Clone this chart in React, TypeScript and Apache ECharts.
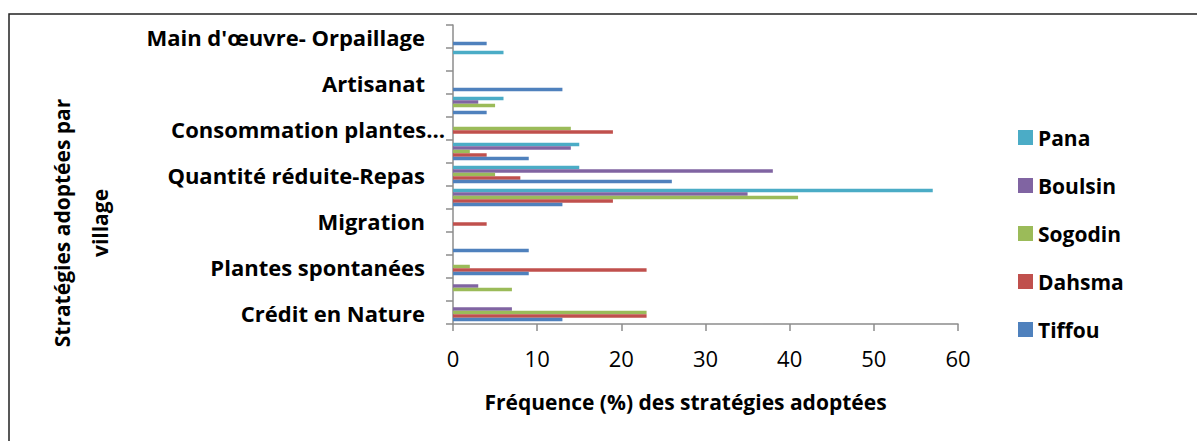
import React, { useEffect, useRef } from "react";
import * as echarts from "echarts";

const categories = [
  "Crédit en Nature",
  "Crédit en espèces",
  "Plantes spontanées",
  "Vente de bétail",
  "Migration",
  "Nombre réduit-Repas",
  "Quantité réduite-Repas",
  "Emprunt",
  "Consommation plantes…",
  "Petit commerce",
  "Artisanat",
  "Aide alimentaire",
  "Main d'œuvre- Orpaillage",
];

const tiffou = [13, 0, 9, 9, 0, 13, 26, 9, 0, 4, 13, 0, 4];
const dahsma = [23, 0, 23, 0, 4, 19, 8, 4, 19, 0, 0, 0, 0];
const sogodin = [23, 7, 2, 0, 0, 41, 5, 2, 14, 5, 0, 0, 0];
const boulsin = [7, 3, 0, 0, 0, 35, 38, 14, 0, 3, 0, 0, 0];
const pana = [0, 0, 0, 0, 0, 57, 15, 15, 0, 6, 0, 6, 0];

// drawn top-to-bottom inside each band
const seriesNames = ["Pana", "Boulsin", "Sogodin", "Dahsma", "Tiffou"];
const seriesValues = [pana, boulsin, sogodin, dahsma, tiffou];
const seriesColors = ["#4BACC6", "#8064A2", "#9BBB59", "#C0504D", "#4F81BD"];
const xTicks = [0, 10, 20, 30, 40, 50, 60];

const FONT = "'Open Sans', 'Noto Sans', sans-serif";

export default function App() {
  const ref = useRef<HTMLDivElement>(null);
  useEffect(() => {
    if (!ref.current) return;
    const chart = echarts.init(ref.current, undefined, { renderer: "svg" });
    chart.setOption({
      animation: false,
      backgroundColor: "#ffffff",
      grid: { left: 453, right: 239, top: 25, bottom: 117, containLabel: false },
      legend: {
        orient: "vertical",
        left: 1013,
        top: 122,
        itemWidth: 15,
        itemHeight: 15,
        itemGap: 27,
        icon: "rect",
        data: ["Pana", "Boulsin", "Sogodin", "Dahsma", "Tiffou"],
        textStyle: { fontFamily: FONT, fontWeight: "bold", fontSize: 21, color: "#000" },
      },
      xAxis: {
        type: "value",
        min: xTicks[0],
        max: xTicks[xTicks.length - 1],
        interval: 10,
        splitLine: { show: false },
        axisLine: { show: true, lineStyle: { color: "#8c8c8c", width: 1.5 } },
        axisTick: { show: true, length: 7, lineStyle: { color: "#8c8c8c", width: 1.5 } },
        axisLabel: { margin: 23, fontFamily: FONT, fontSize: 22, color: "#000" },
        name: "Fréquence (%) des stratégies adoptées",
        nameLocation: "middle",
        nameGap: 67,
        nameTextStyle: {
          fontFamily: FONT,
          fontWeight: "bold",
          fontSize: 21,
          color: "#000",
          padding: [0, 40, 0, 0],
        },
      },
      yAxis: {
        type: "category",
        data: categories,
        axisLine: { show: true, lineStyle: { color: "#8c8c8c", width: 1.5 } },
        axisTick: { show: true, interval: 0, length: 7, lineStyle: { color: "#8c8c8c", width: 1.5 } },
        axisLabel: {
          interval: 1,
          margin: 8,
          fontFamily: FONT,
          fontWeight: "bold",
          fontSize: 22,
          color: "#000",
          formatter: (v: string) => (v === "Consommation plantes…" ? v : "{a|" + v + "}"),
          rich: {
            a: { fontFamily: FONT, fontWeight: "bold", fontSize: 22, color: "#000", padding: [0, 20, 0, 0] },
          },
        },
      },
      series: seriesNames.map((n, i) => ({
        name: n,
        type: "bar",
        data: seriesValues[i],
        barGap: "0%",
        barCategoryGap: "24%",
        itemStyle: { color: seriesColors[i] },
      })),
      graphic: [
        {
          type: "rect",
          shape: { x: 9, y: 14, width: 1300, height: 600 },
          style: { fill: "none", stroke: "#222", lineWidth: 1.5 },
          silent: true,
        },
        {
          type: "text",
          x: 62,
          y: 223,
          rotation: Math.PI / 2,
          style: {
            text: "Stratégies adoptées par",
            fontFamily: FONT,
            fontWeight: "bold",
            fontSize: 21,
            fill: "#000",
            align: "center",
            verticalAlign: "middle",
          },
        },
        {
          type: "text",
          x: 100,
          y: 223,
          rotation: Math.PI / 2,
          style: {
            text: "village",
            fontFamily: FONT,
            fontWeight: "bold",
            fontSize: 21,
            fill: "#000",
            align: "center",
            verticalAlign: "middle",
          },
        },
      ],
    });
    return () => chart.dispose();
  }, []);
  return (
    <div
      ref={ref}
      style={{ position: "absolute", left: 0, top: 0, width: 1197, height: 441 }}
    />
  );
}
